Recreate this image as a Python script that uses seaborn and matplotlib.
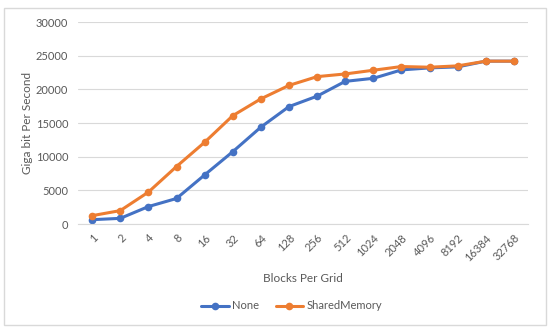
import pandas as pd
import matplotlib.pyplot as plt
import seaborn as sns
from matplotlib.patches import Rectangle

# blocks per grid (category labels)
blocks = ['1', '2', '4', '8', '16', '32', '64', '128', '256', '512',
          '1024', '2048', '4096', '8192', '16384', '32768']

# throughput, giga bit per second
none_vals = [650, 850, 2600, 3800, 7300, 10750, 14400, 17450,
             19000, 21200, 21650, 22900, 23200, 23350, 24200, 24200]
shared_vals = [1250, 2000, 4750, 8550, 12150, 16100, 18600, 20600,
               21900, 22300, 22850, 23400, 23300, 23500, 24200, 24200]

series_names = ['None', 'SharedMemory']
colors = ['#4472C4', '#ED7D31']

df = pd.DataFrame({
    'Blocks': blocks * 2,
    'pos': list(range(len(blocks))) * 2,
    'Value': none_vals + shared_vals,
    'Series': ['None'] * len(blocks) + ['SharedMemory'] * len(blocks),
})

sns.set_style('white')
plt.rcParams['font.family'] = ['Lato', 'DejaVu Sans']
txt = '#595959'

fig = plt.figure(figsize=(5.5, 3.3), dpi=100)
ax = fig.add_axes([0.142, 0.321, 0.818, 0.612])

sns.lineplot(data=df, x='pos', y='Value', hue='Series', hue_order=series_names,
             palette=colors, marker='o', markersize=5.5, markeredgewidth=0,
             linewidth=2.2, ax=ax, legend=False)

ax.set_xlim(-0.5, len(blocks) - 0.5)
ax.set_ylim(0, 30000)
ax.set_yticks(range(0, 30001, 5000))
ax.set_xticks(range(len(blocks)))
ax.set_xticklabels(blocks, rotation=45, ha='right', rotation_mode='anchor')
ax.tick_params(axis='both', length=0, labelsize=8, colors=txt)
ax.tick_params(axis='x', pad=6)
ax.tick_params(axis='y', pad=7)
ax.grid(axis='y', color='#D9D9D9', linewidth=0.8)
ax.set_axisbelow(True)
for s in ['top', 'right', 'left']:
    ax.spines[s].set_visible(False)
ax.spines['bottom'].set_color('#D9D9D9')
ax.spines['bottom'].set_linewidth(0.8)

ax.set_xlabel('Blocks Per Grid', fontsize=8.5, color=txt, labelpad=7)
ax.set_ylabel('Giga bit Per Second', fontsize=8.5, color=txt, labelpad=2)

handles = [plt.Line2D([], [], color=c, marker='o', markersize=5.5, linewidth=2.2,
                      markeredgewidth=0) for c in colors]
leg = fig.legend(handles, series_names, loc='center', bbox_to_anchor=(0.53, 0.073),
                 ncol=2, frameon=False, fontsize=8, handlelength=2.5,
                 handletextpad=0.3, columnspacing=1.5)
for t in leg.get_texts():
    t.set_color(txt)

fig.patches.append(Rectangle((0.008, 0.015), 0.984, 0.96, transform=fig.transFigure,
                             fill=False, edgecolor='#D9D9D9', linewidth=1))

fig.savefig('out.png', dpi=100)
